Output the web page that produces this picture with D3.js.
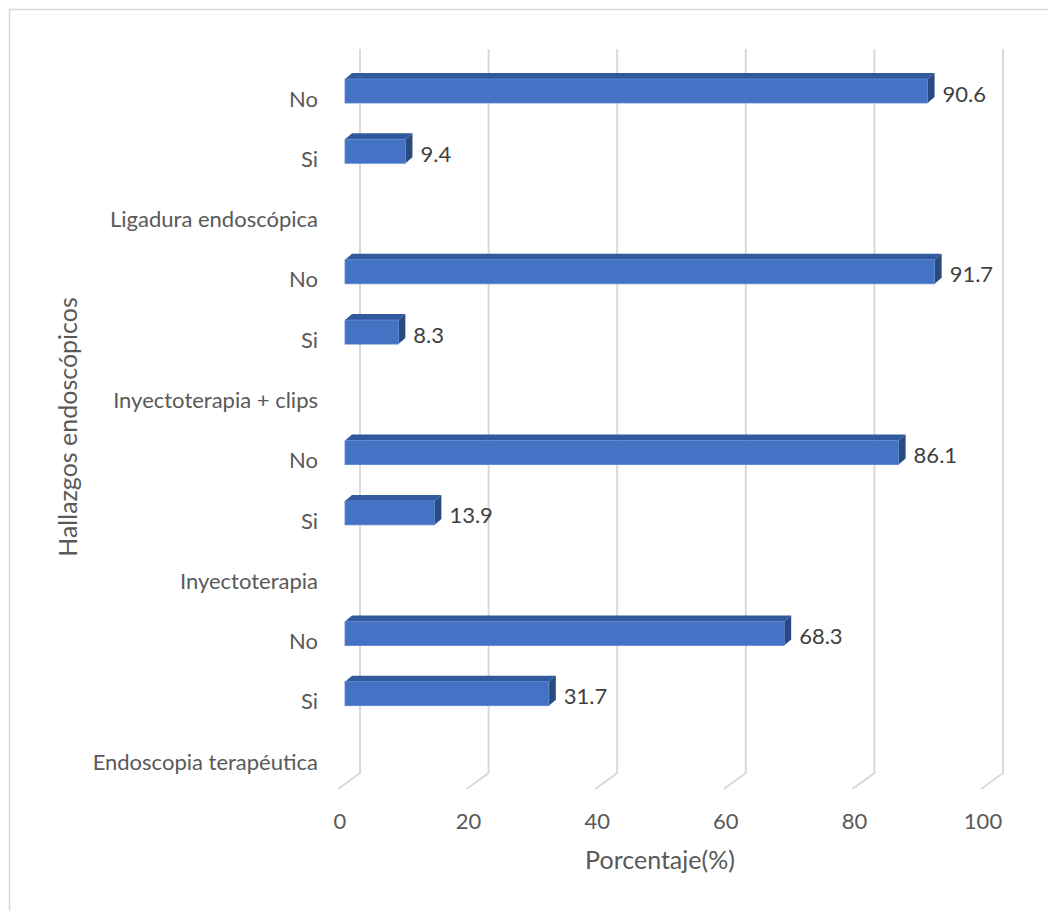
<!DOCTYPE html>
<html><head><meta charset="utf-8">
<script src="https://cdn.jsdelivr.net/npm/d3@7"></script>
<style>html,body{margin:0;padding:0;background:#fff}</style>
</head><body>
<script>
// Data (bottom to top, as in the chart)
const categories = ["Endoscopia terapéutica","Si","No","Inyectoterapia","Si","No","Inyectoterapia + clips","Si","No","Ligadura endoscópica","Si","No"];
const values = [null,31.7,68.3,null,13.9,86.1,null,8.3,91.7,null,9.4,90.6];
const xTicks = [0,20,40,60,80,100];
const xTitle = "Porcentaje(%)";
const yTitle = "Hallazgos endoscópicos";

const W = 1048, H = 911;
const font = "Lato, 'Open Sans', sans-serif";
const svg = d3.select("body").append("svg").attr("width", W).attr("height", H);

// border
svg.append("rect").attr("x", 9.5).attr("y", 9.5).attr("width", W + 20).attr("height", H + 20)
  .attr("fill", "none").attr("stroke", "#d9d9d9").attr("stroke-width", 1.5);

const keys = categories.map((c, i) => i);
const y = d3.scaleBand().domain(keys.slice().reverse()).range([68, 68 + 12 * 60.27]).paddingInner(0).paddingOuter(0);
const x = d3.scaleLinear().domain([0, 100]).range([338, 981]); // front plane
const back = {dx: 22, dy: -16};   // back wall offset
const barD = {dx: 7, dy: -6};     // bar depth
const barOff = 7;                 // bar front plane offset from front
const wallBottom = 789;

// gridlines (back wall verticals + floor diagonals)
const g = svg.append("g");
xTicks.forEach(t => {
  const fx = x(t);
  g.append("path")
    .attr("d", `M${fx + back.dx},49 L${fx + back.dx},${wallBottom + back.dy} L${fx},${wallBottom}`)
    .attr("fill", "none").attr("stroke", "#d9d9d9").attr("stroke-width", 2);
});

// tick labels
svg.append("g").selectAll("text").data(xTicks).join("text")
  .attr("x", d => x(d) + 2).attr("y", 820)
  .attr("text-anchor", "middle").attr("dominant-baseline", "central")
  .attr("font-family", font).attr("font-size", 22).attr("fill", "#595959")
  .text(d => d);

// category labels
svg.append("g").selectAll("text").data(keys).join("text")
  .attr("x", 318).attr("y", d => y(d) + y.bandwidth() / 2)
  .attr("text-anchor", "end").attr("dominant-baseline", "central")
  .attr("font-family", font).attr("font-size", 22).attr("fill", "#595959")
  .text(d => categories[d]);

// bars
const bh = 24;
const bars = svg.append("g");
keys.filter(k => values[k] != null).forEach(k => {
  const v = values[k];
  const x0 = x(0) + barOff, x1 = x(v) + barOff;
  const y0 = y(k) + 11, y1 = y0 + bh;
  // top face
  bars.append("path")
    .attr("d", `M${x0},${y0} L${x0 + barD.dx},${y0 + barD.dy} L${x1 + barD.dx},${y0 + barD.dy} L${x1},${y0} Z`)
    .attr("fill", "#31599e");
  // side face
  bars.append("path")
    .attr("d", `M${x1},${y0} L${x1 + barD.dx},${y0 + barD.dy} L${x1 + barD.dx},${y1 + barD.dy} L${x1},${y1} Z`)
    .attr("fill", "#2a4a82");
  // front face
  bars.append("rect").attr("x", x0).attr("y", y0).attr("width", x1 - x0).attr("height", bh)
    .attr("fill", "#4472c4").attr("stroke", "#5b86d0").attr("stroke-width", 0.8);
  // value label
  bars.append("text").attr("x", x1 + barD.dx + 8).attr("y", y0 + bh / 2 + 2)
    .attr("dominant-baseline", "central")
    .attr("font-family", font).attr("font-size", 22).attr("fill", "#404040")
    .text(v.toFixed(1));
});

// axis titles
svg.append("text").attr("x", 660).attr("y", 859)
  .attr("text-anchor", "middle").attr("dominant-baseline", "central")
  .attr("font-family", font).attr("font-size", 25).attr("fill", "#595959").text(xTitle);
svg.append("text").attr("transform", "translate(67,427) rotate(-90)")
  .attr("text-anchor", "middle").attr("dominant-baseline", "central")
  .attr("font-family", font).attr("font-size", 25).attr("fill", "#595959").text(yTitle);
</script>
</body></html>
